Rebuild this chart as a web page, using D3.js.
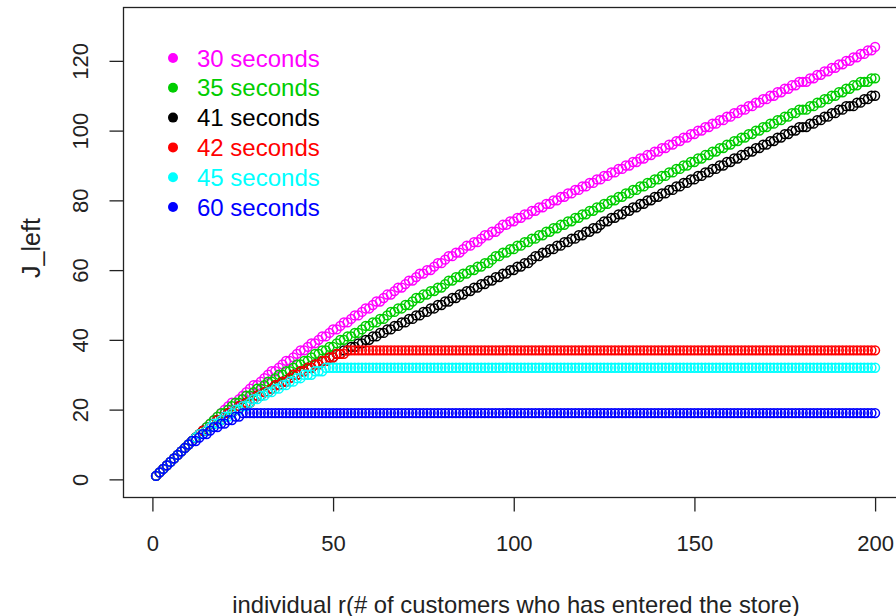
<!DOCTYPE html>
<html>
<head>
<meta charset="utf-8">
<script src="https://cdn.jsdelivr.net/npm/d3@7"></script>
<style>
  html, body { margin: 0; padding: 0; background: #fff; }
  svg { display: block; }
  text { font-family: "Liberation Sans", Arial, sans-serif; }
</style>
</head>
<body>
<svg id="chart" width="896" height="616"></svg>
<script>
// Customers r = 1..200 (x axis)
const customers = d3.range(1, 201);

// J_left for each waiting time, one value per customer r
const j30 = [
  1,2,3,4,5,6,7,8,9,10,
  11,12,13,14,15,16,17,18,19,20,
  21,22,22,23,24,25,26,27,27,28,
  29,30,31,31,32,33,34,34,35,36,
  37,37,38,39,39,40,41,41,42,43,
  43,44,45,45,46,47,47,48,49,49,
  50,51,51,52,53,53,54,55,55,56,
  57,57,58,59,59,60,60,61,62,62,
  63,64,64,65,65,66,67,67,68,68,
  69,70,70,71,71,72,73,73,74,74,
  75,75,76,76,77,77,78,78,79,79,
  80,80,81,81,82,82,83,83,84,84,
  85,85,86,86,87,87,88,88,89,89,
  90,90,91,91,92,92,93,93,94,94,
  95,95,96,96,97,97,98,98,99,99,
  100,100,101,101,102,102,103,103,104,104,
  105,105,106,106,107,107,108,108,109,109,
  110,110,111,111,112,112,113,113,114,114,
  114,115,115,116,116,117,117,118,118,119,
  119,120,120,121,121,122,122,123,123,124
];
const j35 = [
  1,2,3,4,5,6,7,8,9,10,
  11,12,13,14,15,16,17,18,19,19,
  20,21,22,22,23,24,24,25,26,26,
  27,28,28,29,30,30,31,31,32,33,
  33,34,34,35,36,36,37,37,38,38,
  39,40,40,41,41,42,42,43,44,44,
  45,45,46,46,47,48,48,49,49,50,
  50,51,52,52,53,53,54,54,55,55,
  56,57,57,58,58,59,59,60,60,61,
  61,62,62,63,64,64,65,65,66,66,
  67,67,68,68,69,69,70,70,71,71,
  72,72,73,73,74,74,75,75,76,76,
  77,77,78,78,79,79,80,80,81,81,
  82,82,83,83,84,84,85,85,86,86,
  87,87,88,88,89,89,90,90,91,91,
  92,92,93,93,94,94,95,95,96,96,
  97,97,98,98,99,99,100,100,101,101,
  102,102,103,103,104,104,105,105,106,106,
  106,107,107,108,108,109,109,110,110,111,
  111,112,112,113,113,114,114,114,115,115
];
const j41 = [
  1,2,3,4,5,6,7,8,9,10,
  11,12,13,14,14,15,16,17,17,18,
  19,19,20,21,21,22,22,23,24,24,
  25,25,26,27,27,28,28,29,30,30,
  31,31,32,32,33,33,34,34,35,35,
  36,36,37,37,38,38,39,39,40,40,
  41,41,42,42,43,43,44,44,45,45,
  46,46,47,47,48,48,49,49,50,50,
  51,51,52,52,53,53,54,54,55,55,
  56,56,57,57,58,58,59,59,60,60,
  61,61,62,62,63,64,64,65,65,66,
  66,67,67,68,68,69,69,70,70,71,
  71,72,72,73,74,74,75,75,76,76,
  77,77,78,78,79,79,80,80,81,81,
  82,82,83,83,84,84,85,85,86,86,
  87,87,88,88,89,89,90,90,91,91,
  92,92,93,93,94,94,95,95,96,96,
  97,97,98,98,99,99,100,100,101,101,
  101,102,102,103,103,104,104,105,105,106,
  106,107,107,107,108,108,109,109,110,110
];
const j42 = [
  1,2,3,4,5,6,7,8,9,10,
  11,12,13,14,14,15,16,17,17,18,
  19,19,20,21,21,22,22,23,24,24,
  25,25,26,27,27,28,28,29,30,30,
  31,31,32,32,33,33,34,34,35,35,
  36,36,36,37,37,37,37,37,37,37,
  37,37,37,37,37,37,37,37,37,37,
  37,37,37,37,37,37,37,37,37,37,
  37,37,37,37,37,37,37,37,37,37,
  37,37,37,37,37,37,37,37,37,37,
  37,37,37,37,37,37,37,37,37,37,
  37,37,37,37,37,37,37,37,37,37,
  37,37,37,37,37,37,37,37,37,37,
  37,37,37,37,37,37,37,37,37,37,
  37,37,37,37,37,37,37,37,37,37,
  37,37,37,37,37,37,37,37,37,37,
  37,37,37,37,37,37,37,37,37,37,
  37,37,37,37,37,37,37,37,37,37,
  37,37,37,37,37,37,37,37,37,37,
  37,37,37,37,37,37,37,37,37,37
];
const j45 = [
  1,2,3,4,5,6,7,8,9,10,
  11,12,13,13,14,15,16,16,17,18,
  18,19,20,20,21,21,22,23,23,24,
  24,25,25,26,26,27,27,28,28,29,
  29,30,30,30,31,31,31,32,32,32,
  32,32,32,32,32,32,32,32,32,32,
  32,32,32,32,32,32,32,32,32,32,
  32,32,32,32,32,32,32,32,32,32,
  32,32,32,32,32,32,32,32,32,32,
  32,32,32,32,32,32,32,32,32,32,
  32,32,32,32,32,32,32,32,32,32,
  32,32,32,32,32,32,32,32,32,32,
  32,32,32,32,32,32,32,32,32,32,
  32,32,32,32,32,32,32,32,32,32,
  32,32,32,32,32,32,32,32,32,32,
  32,32,32,32,32,32,32,32,32,32,
  32,32,32,32,32,32,32,32,32,32,
  32,32,32,32,32,32,32,32,32,32,
  32,32,32,32,32,32,32,32,32,32,
  32,32,32,32,32,32,32,32,32,32
];
const j60 = [
  1,2,3,4,5,6,7,8,9,10,
  11,11,12,13,13,14,15,15,16,16,
  17,17,18,18,19,19,19,19,19,19,
  19,19,19,19,19,19,19,19,19,19,
  19,19,19,19,19,19,19,19,19,19,
  19,19,19,19,19,19,19,19,19,19,
  19,19,19,19,19,19,19,19,19,19,
  19,19,19,19,19,19,19,19,19,19,
  19,19,19,19,19,19,19,19,19,19,
  19,19,19,19,19,19,19,19,19,19,
  19,19,19,19,19,19,19,19,19,19,
  19,19,19,19,19,19,19,19,19,19,
  19,19,19,19,19,19,19,19,19,19,
  19,19,19,19,19,19,19,19,19,19,
  19,19,19,19,19,19,19,19,19,19,
  19,19,19,19,19,19,19,19,19,19,
  19,19,19,19,19,19,19,19,19,19,
  19,19,19,19,19,19,19,19,19,19,
  19,19,19,19,19,19,19,19,19,19,
  19,19,19,19,19,19,19,19,19,19
];

const seriesLabels = ["30 seconds", "35 seconds", "41 seconds", "42 seconds", "45 seconds", "60 seconds"];
const seriesColors = ["#ff00ff", "#00cd00", "#000000", "#ff0000", "#00ffff", "#0000ff"];
const seriesValues = [j30, j35, j41, j42, j45, j60];

const xTicks = [0, 50, 100, 150, 200];
const yTicks = [0, 20, 40, 60, 80, 100, 120];

const svg = d3.select("#chart");
svg.append("rect").attr("width", 896).attr("height", 616).attr("fill", "#fff");

// plotting region (right edge runs past the canvas)
const box = { left: 123.5, top: 7.5, right: 904, bottom: 497.5 };

const x = d3.scaleLinear().domain([-8, 208]).range([box.left, box.right]);
const y = d3.scaleLinear().domain([-5.2, 135.3]).range([box.bottom, box.top]);

// open-circle points, drawn series by series
seriesValues.forEach((vals, i) => {
  svg.append("g")
    .selectAll("circle")
    .data(vals)
    .join("circle")
    .attr("cx", (d, k) => x(customers[k]))
    .attr("cy", d => y(d))
    .attr("r", 4.4)
    .attr("fill", "none")
    .attr("stroke", seriesColors[i])
    .attr("stroke-width", 1.5);
});

// frame
svg.append("rect")
  .attr("x", box.left).attr("y", box.top)
  .attr("width", box.right - box.left).attr("height", box.bottom - box.top)
  .attr("fill", "none").attr("stroke", "#222").attr("stroke-width", 1.3);

const fontStack = "'Liberation Sans', Arial, sans-serif";

// x axis
const xAxis = svg.append("g")
  .attr("transform", `translate(0,${box.bottom})`)
  .call(d3.axisBottom(x).tickValues(xTicks).tickSize(14).tickPadding(24).tickFormat(d3.format("d")));
xAxis.select(".domain").remove();
xAxis.selectAll(".tick line").attr("stroke", "#222").attr("stroke-width", 1.3);
xAxis.selectAll(".tick text")
  .attr("fill", "#222")
  .style("font-size", "22px")
  .style("font-family", fontStack);

// y axis with rotated labels
const yAxis = svg.append("g")
  .attr("transform", `translate(${box.left},0)`)
  .call(d3.axisLeft(y).tickValues(yTicks).tickSize(14).tickFormat(d3.format("d")));
yAxis.select(".domain").remove();
yAxis.selectAll(".tick line").attr("stroke", "#222").attr("stroke-width", 1.3);
yAxis.selectAll(".tick text")
  .attr("x", null).attr("dy", null)
  .attr("text-anchor", "middle")
  .attr("dominant-baseline", "central")
  .attr("transform", `translate(${80 - box.left},0) rotate(-90)`)
  .attr("fill", "#222")
  .style("font-size", "22px")
  .style("font-family", fontStack);

// axis titles
svg.append("text")
  .attr("x", 516).attr("y", 604)
  .attr("text-anchor", "middle").attr("dominant-baseline", "central")
  .attr("fill", "#222").style("font-size", "23.8px")
  .text("individual r(# of customers who has entered the store)");

svg.append("text")
  .attr("transform", "translate(31,248) rotate(-90)")
  .attr("text-anchor", "middle").attr("dominant-baseline", "central")
  .attr("fill", "#222").style("font-size", "25px")
  .text("J_left");

// legend
const legend = svg.append("g");
seriesLabels.forEach((lab, i) => {
  const ly = 58 + i * 29.8;
  legend.append("circle")
    .attr("cx", 173).attr("cy", ly).attr("r", 5)
    .attr("fill", seriesColors[i]);
  legend.append("text")
    .attr("x", 197).attr("y", ly)
    .attr("dominant-baseline", "central")
    .attr("fill", seriesColors[i])
    .style("font-size", "24px")
    .text(lab);
});
</script>
</body>
</html>
